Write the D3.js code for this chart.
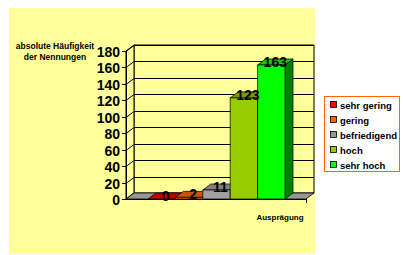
<!DOCTYPE html>
<html>
<head>
<meta charset="utf-8">
<script src="https://cdn.jsdelivr.net/npm/d3@7"></script>
<style>
  body { margin: 0; background: #fff; }
  svg { display: block; font-family: Arial, "Liberation Sans", sans-serif; font-weight: bold; }
</style>
</head>
<body>
<div id="chart"></div>
<script>
// data
const categories = ["sehr gering", "gering", "befriedigend", "hoch", "sehr hoch"];
const counts = [0, 2, 11, 123, 163];
const yTicks = [0, 20, 40, 60, 80, 100, 120, 140, 160, 180];
const frontColors = ["#ff0000", "#ff6600", "#a0a0a0", "#99cc00", "#00ff00"];
const topColors = ["#c00000", "#cc5200", "#808080", "#7a9900", "#00cc00"];
const sideColors = ["#990000", "#993d00", "#707070", "#5c7a00", "#008000"];
const legendColors = ["#ff0000", "#ff6600", "#969696", "#99cc00", "#00ff00"];

const width = 403, height = 255;
const dx = 8, dy = -6; // 3d depth offset
const plot = { left: 126, right: 306, bottom: 199 };

const svg = d3.select("#chart").append("svg")
  .attr("width", width)
  .attr("height", height);

// chart area background
svg.append("rect")
  .attr("x", 9).attr("y", 8)
  .attr("width", 306).attr("height", 246)
  .attr("fill", "#ffff99");

const y = d3.scaleLinear().domain([0, 180]).range([plot.bottom, 51]);
const x = d3.scaleBand().domain(categories).range([148, 285]).padding(0);

const yTop = y(180);

// back wall
svg.append("path")
  .attr("d", `M${plot.left + dx},${yTop + dy}H${plot.right + dx}V${plot.bottom + dy}H${plot.left + dx}Z`)
  .attr("fill", "#ffff99")
  .attr("stroke", "#000")
  .attr("stroke-width", 1);

// left wall
svg.append("path")
  .attr("d", `M${plot.left},${yTop}L${plot.left + dx},${yTop + dy}V${plot.bottom + dy}L${plot.left},${plot.bottom}Z`)
  .attr("fill", "#ffff99")
  .attr("stroke", "#000")
  .attr("stroke-width", 1);

// gridlines on back wall and left wall
const grid = svg.append("g").attr("stroke", "#000").attr("stroke-width", 1).attr("fill", "none");
yTicks.forEach(v => {
  const yy = Math.round(y(v)) + 0.5;
  grid.append("path")
    .attr("d", `M${plot.left},${yy}L${plot.left + dx},${yy + dy}H${plot.right + dx}`);
});

// floor
svg.append("path")
  .attr("d", `M${plot.left},${plot.bottom}H${plot.right}L${plot.right + dx},${plot.bottom + dy}H${plot.left + dx}Z`)
  .attr("fill", "#969696")
  .attr("stroke", "#000")
  .attr("stroke-width", 0.8);

// bars
const bars = svg.append("g");
categories.forEach((c, i) => {
  const x0 = x(c), x1 = x(c) + x.bandwidth();
  const yv = y(counts[i]), y0 = y(0);
  const g = bars.append("g").attr("stroke", "#000").attr("stroke-width", 0.7).attr("stroke-linejoin", "round");
  // side
  g.append("path")
    .attr("d", `M${x1},${yv}L${x1 + dx},${yv + dy}V${y0 + dy}L${x1},${y0}Z`)
    .attr("fill", sideColors[i]);
  // top
  g.append("path")
    .attr("d", `M${x0},${yv}L${x0 + dx},${yv + dy}H${x1 + dx}L${x1},${yv}Z`)
    .attr("fill", topColors[i]);
  // front
  if (counts[i] > 0) {
    g.append("rect")
      .attr("x", x0).attr("y", yv)
      .attr("width", x.bandwidth()).attr("height", y0 - yv)
      .attr("fill", frontColors[i]);
  }
});

// value labels
svg.append("g").selectAll("text")
  .data(counts)
  .join("text")
  .attr("x", (d, i) => x(categories[i]) + x.bandwidth() / 2 + dx / 2)
  .attr("y", d => y(d) + dy / 2 + 5)
  .attr("text-anchor", "middle")
  .attr("font-size", 14)
  .attr("fill", "#000")
  .text(d => d);

// y axis
const yAxis = svg.append("g");
yAxis.append("line")
  .attr("x1", plot.left + 0.5).attr("x2", plot.left + 0.5)
  .attr("y1", yTop).attr("y2", plot.bottom)
  .attr("stroke", "#000");
yTicks.forEach(v => {
  const yy = Math.round(y(v)) + 0.5;
  yAxis.append("line")
    .attr("x1", plot.left - 4).attr("x2", plot.left)
    .attr("y1", yy).attr("y2", yy)
    .attr("stroke", "#000");
  yAxis.append("text")
    .attr("x", plot.left - 6)
    .attr("y", yy + 5)
    .attr("text-anchor", "end")
    .attr("font-size", 14)
    .text(v);
});

// x axis front edge
svg.append("line")
  .attr("x1", plot.left).attr("x2", plot.right)
  .attr("y1", plot.bottom + 0.5).attr("y2", plot.bottom + 0.5)
  .attr("stroke", "#000");
svg.append("line")
  .attr("x1", plot.right + 0.5).attr("x2", plot.right + 0.5)
  .attr("y1", plot.bottom).attr("y2", plot.bottom + 4)
  .attr("stroke", "#000");

// axis titles
const yTitle = svg.append("text")
  .attr("text-anchor", "middle")
  .attr("font-size", 8.5);
yTitle.append("tspan").attr("x", 55).attr("y", 48.5).text("absolute Häufigkeit");
yTitle.append("tspan").attr("x", 55).attr("y", 59.5).text("der Nennungen");

svg.append("text")
  .attr("x", 280).attr("y", 219.5)
  .attr("text-anchor", "middle")
  .attr("font-size", 8)
  .text("Ausprägung");

// legend
const legend = svg.append("g");
legend.append("rect")
  .attr("x", 324.5).attr("y", 96.5)
  .attr("width", 75).attr("height", 75)
  .attr("fill", "#fff")
  .attr("stroke", "#ff6600")
  .attr("stroke-width", 1);

const items = legend.selectAll("g.item")
  .data(categories)
  .join("g")
  .attr("class", "item")
  .attr("transform", (d, i) => `translate(330, ${105 + i * 15})`);

items.append("rect")
  .attr("x", 0.5).attr("y", -3.5)
  .attr("width", 6).attr("height", 6)
  .attr("fill", (d, i) => legendColors[i])
  .attr("stroke", "#000")
  .attr("stroke-width", 0.8);

items.append("text")
  .attr("x", 10).attr("y", 3.5)
  .attr("font-size", 9.5)
  .text(d => d);
</script>
</body>
</html>
